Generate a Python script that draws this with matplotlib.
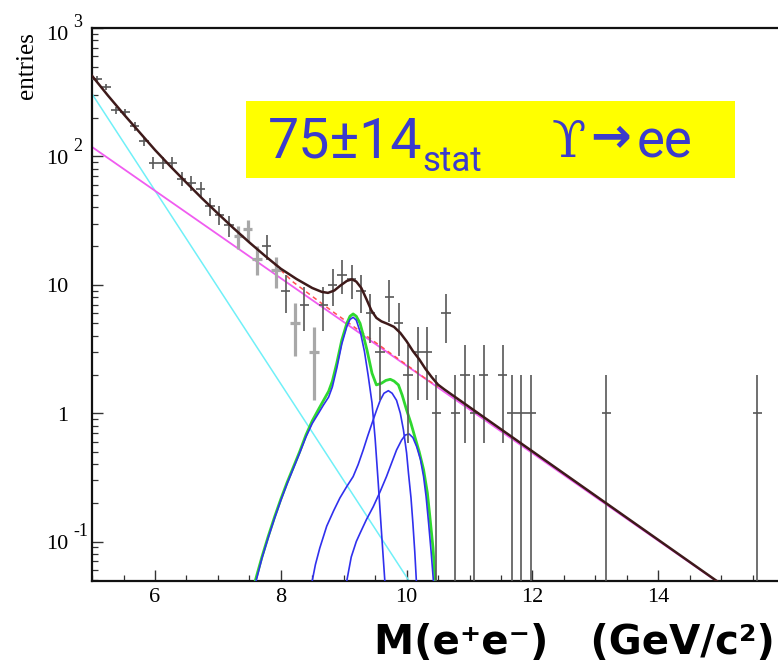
import numpy as np
import matplotlib
matplotlib.use('Agg')
import matplotlib.pyplot as plt
from matplotlib import transforms
from matplotlib.patches import Rectangle
from matplotlib.ticker import FixedLocator, MultipleLocator, NullFormatter

# ---------------- data ----------------
# histogram: bin centres (GeV/c^2) and entries
bin_centers = [5.075, 5.225, 5.375, 5.525, 5.675, 5.825, 5.975, 6.125, 6.275, 6.425,
               6.575, 6.725, 6.875, 7.025, 7.175, 7.325, 7.475, 7.625, 7.775, 7.925,
               8.075, 8.225, 8.375, 8.525, 8.675, 8.825, 8.975, 9.125, 9.275, 9.425,
               9.575, 9.725, 9.875, 10.025, 10.175, 10.325, 10.475, 10.625, 10.775, 10.925,
               11.075, 11.225, 11.525, 11.675, 11.825, 11.975, 13.175, 15.575]
counts = [400, 347, 228, 220, 172, 131, 89, 89, 89, 67,
          62, 56, 41, 35, 29, 24, 27, 16, 20, 13,
          9, 5, 7, 3, 7, 10, 12, 11, 9, 6,
          3, 8, 5, 2, 3, 3, 1, 6, 1, 2,
          1, 2, 2, 1, 1, 1, 1, 1]
bin_half_width = 0.075
# bins whose error bars are drawn in the pale, wide grey of the reference
pale_bins = [7.325, 7.475, 7.625, 7.925, 8.225, 8.525]

# fitted curves (log10 of entries)
cyan_x = [5.0, 10.1]
cyan_log = [2.486, -1.352]

magenta_x = [5.0, 15.5]
magenta_log = [2.073, -1.504]

bkgsum_x = [7.9, 8.2, 8.5, 8.8, 9.1, 9.4, 9.7, 10.0, 10.3, 10.5]
bkgsum_log = [1.16, 1.02, 0.91, 0.80, 0.695, 0.588, 0.482, 0.376, 0.27, 0.205]

total_x = [5.0, 5.25, 5.5, 5.75, 6.0, 6.25, 6.5, 6.75, 7.0, 7.25, 7.5, 7.75, 8.0, 8.25,
           8.5, 8.65, 8.75, 8.85, 8.95, 9.05, 9.13, 9.2, 9.28, 9.36, 9.44, 9.52, 9.6,
           9.7, 9.8, 9.9, 10.0, 10.1, 10.2, 10.3, 10.4, 10.5, 10.6, 15.5]
total_log = [2.627, 2.475, 2.33, 2.19, 2.05, 1.92, 1.795, 1.672, 1.555, 1.44, 1.33, 1.225,
             1.125, 1.045, 0.975, 0.945, 0.937, 0.955, 0.995, 1.03, 1.043, 1.025, 0.975,
             0.89, 0.80, 0.742, 0.715, 0.695, 0.672, 0.625, 0.56, 0.484, 0.42, 0.345,
             0.28, 0.222, 0.185, -1.503]

signal_x = [7.58, 7.7, 7.8, 7.9, 8.0, 8.1, 8.2, 8.3, 8.4, 8.5, 8.6, 8.68, 8.76, 8.82,
            8.89, 8.97, 9.05, 9.1, 9.15, 9.2, 9.26, 9.32, 9.37, 9.45, 9.52, 9.6, 9.67,
            9.74, 9.8, 9.87, 9.93, 10.0, 10.07, 10.13, 10.2, 10.27, 10.33, 10.37, 10.42, 10.46]
signal_log = [-1.33, -1.12, -0.96, -0.81, -0.67, -0.54, -0.42, -0.30, -0.17, -0.06, 0.03,
              0.10, 0.17, 0.25, 0.39, 0.57, 0.70, 0.755, 0.773, 0.755, 0.70, 0.59, 0.492,
              0.311, 0.22, 0.233, 0.255, 0.264, 0.25, 0.22, 0.14, 0.025, -0.08, -0.183,
              -0.30, -0.44, -0.62, -0.806, -1.05, -1.35]

y1s_x = [7.6, 7.7, 7.8, 7.9, 8.0, 8.1, 8.2, 8.3, 8.4, 8.5, 8.6, 8.68, 8.76, 8.82, 8.89,
         8.97, 9.05, 9.1, 9.15, 9.2, 9.27, 9.33, 9.39, 9.45, 9.5, 9.55, 9.6, 9.66]
y1s_log = [-1.32, -1.13, -0.97, -0.82, -0.68, -0.55, -0.43, -0.31, -0.185, -0.08, 0.0,
           0.065, 0.125, 0.205, 0.35, 0.54, 0.675, 0.73, 0.747, 0.725, 0.62, 0.48, 0.29,
           0.08, -0.2, -0.55, -0.92, -1.35]

y2s_x = [8.49, 8.55, 8.62, 8.73, 8.84, 8.94, 9.05, 9.15, 9.23, 9.31, 9.38, 9.45, 9.52,
         9.58, 9.64, 9.71, 9.77, 9.84, 9.9, 9.95, 10.0, 10.03, 10.07, 10.1, 10.13, 10.16]
y2s_log = [-1.33, -1.18, -1.05, -0.88, -0.76, -0.66, -0.57, -0.494, -0.40, -0.287, -0.18,
           -0.079, 0.02, 0.10, 0.155, 0.175, 0.155, 0.10, 0.0, -0.131, -0.31, -0.468,
           -0.66, -0.857, -1.08, -1.35]

y3s_x = [9.04, 9.12, 9.2, 9.26, 9.36, 9.47, 9.58, 9.68, 9.76, 9.84, 9.92, 9.98, 10.04,
         10.1, 10.16, 10.22, 10.27, 10.31, 10.35, 10.39, 10.43]
y3s_log = [-1.33, -1.12, -1.0, -0.935, -0.83, -0.728, -0.61, -0.494, -0.39, -0.287, -0.21,
           -0.17, -0.162, -0.19, -0.261, -0.36, -0.494, -0.65, -0.857, -1.08, -1.33]

ytick_values = [1000, 100, 10, 1, 0.1]
ytick_base = ['10', '10', '10', '1', '10']
ytick_sup = ['3', '2', '', '', '-1']
xtick_values = [6, 8, 10, 12, 14]

# ---------------- figure ----------------
W, H = 778, 670
fig = plt.figure(figsize=(W / 100, H / 100), dpi=100)
ax_left, ax_right, ax_top, ax_bottom = 92.1, 784.0, 28.0, 581.0
ax = fig.add_axes([ax_left / W, 1 - ax_bottom / H, (ax_right - ax_left) / W,
                   (ax_bottom - ax_top) / H])
ax.set_yscale('log')
ax.set_xlim(5, 16)
ax.set_ylim(0.0493, 1000)

serif = ['Liberation Serif', 'DejaVu Serif']


def p10(v):
    return np.power(10.0, np.asarray(v, dtype=float))


# curves
ax.plot(cyan_x, p10(cyan_log), color='#70f0f8', lw=1.1, zorder=2)
ax.plot(magenta_x, p10(magenta_log), color='#f05cf0', lw=1.3, zorder=2)
ax.plot(bkgsum_x, p10(bkgsum_log), color='#ff5050', lw=1.1, ls=(0, (3, 2.5)), zorder=2)
ax.plot(signal_x, p10(signal_log), color='#2fd82f', lw=2.0, zorder=3,
        solid_joinstyle='round')
for bx, bl in ((y1s_x, y1s_log), (y2s_x, y2s_log), (y3s_x, y3s_log)):
    ax.plot(bx, p10(bl), color='#3030ee', lw=1.2, zorder=4, solid_joinstyle='round')

# data points
xc = np.asarray(bin_centers, dtype=float)
n = np.asarray(counts, dtype=float)
err = np.sqrt(n)
lower = np.minimum(err, n - 1e-4)
pale = np.isin(np.round(xc, 3), np.round(pale_bins, 3))
ax.errorbar(xc[pale], n[pale], yerr=[lower[pale], err[pale]], xerr=bin_half_width,
            fmt='none', ecolor='#a8a8a8', elinewidth=2.3, capsize=0, zorder=5)
ax.errorbar(xc[~pale], n[~pale], yerr=[lower[~pale], err[~pale]], xerr=bin_half_width,
            fmt='none', ecolor='#585858', elinewidth=1.2, capsize=0, zorder=5)

ax.plot(total_x, p10(total_log), color='#3e1a1a', lw=1.8, zorder=6,
        solid_joinstyle='round')

# axes styling
for s in ['left', 'bottom', 'top']:
    ax.spines[s].set_linewidth(1.6)
    ax.spines[s].set_color('#111111')
ax.spines['right'].set_visible(False)

ax.yaxis.set_major_locator(FixedLocator(ytick_values))
ax.yaxis.set_minor_locator(FixedLocator(
    [m * 10.0 ** e for e in range(-2, 3) for m in range(2, 10)]))
ax.yaxis.set_major_formatter(NullFormatter())
ax.yaxis.set_minor_formatter(NullFormatter())

ax.xaxis.set_major_locator(FixedLocator(xtick_values + [16]))
ax.xaxis.set_minor_locator(MultipleLocator(0.5))
ax.set_xticklabels([str(v) for v in xtick_values] + [''], fontsize=16, family=serif)

ax.tick_params(which='both', direction='in', top=False, right=False, color='#333333')
ax.tick_params(which='major', length=8, width=1.0)
ax.tick_params(which='minor', length=4.5, width=0.9)
ax.tick_params(axis='x', pad=5)

# y tick labels (ROOT style: base number + raised exponent)
blend = transforms.blended_transform_factory(ax.transAxes, ax.transData)
axw = ax_right - ax_left
for val, base, sup in zip(ytick_values, ytick_base, ytick_sup):
    dy = -7 if val == 1000 else -3
    tb = transforms.offset_copy(blend, fig=fig, x=0, y=dy, units='dots')
    ax.text((68 - ax_left) / axw, val, base, transform=tb, ha='right', va='center',
            fontsize=16, family=serif, clip_on=False)
    if sup:
        ts = transforms.offset_copy(blend, fig=fig, x=0, y=dy + 13, units='dots')
        ax.text((73 - ax_left) / axw, val, sup, transform=ts, ha='left', va='center',
                fontsize=13, family=serif, clip_on=False)

fig.text(27 / W, 1 - 66 / H, 'entries', rotation=90, ha='center', va='center',
         fontsize=18, family=serif)

# yellow label box
fig.add_artist(Rectangle((246 / W, 1 - 178 / H), (735 - 246) / W, 77 / H,
                         transform=fig.transFigure, facecolor='#ffff00',
                         edgecolor='none', zorder=10))
blue = '#3b3bcc'
fig.text(268 / W, 1 - 157 / H, '75\u00b114', fontsize=40, family='Roboto', color=blue,
         ha='left', va='baseline', zorder=11)
fig.text(422 / W, 1 - 171 / H, 'stat', fontsize=25, family='Roboto', color=blue,
         ha='left', va='baseline', zorder=11)
fig.text(552 / W, 1 - 157 / H, '\u03d2', fontsize=36, family=['DejaVu Serif'], color=blue,
         ha='left', va='baseline', zorder=11)
fig.text(611 / W, 1 - 138 / H, '\u2192', fontsize=35, family=['DejaVu Sans'],
         fontweight='bold', color=blue, ha='center', va='center', zorder=11)
fig.text(637 / W, 1 - 157 / H, 'ee', fontsize=38, family='Roboto', color=blue,
         ha='left', va='baseline', zorder=11)

# x axis title
fig.text(775 / W, 1 - 643 / H, 'M(e\u207ae\u207b)   (GeV/c\u00b2)', ha='right', va='center',
         fontsize=29, fontweight='bold', family=['DejaVu Sans'], color='black')

fig.savefig('out.png', dpi=100)
